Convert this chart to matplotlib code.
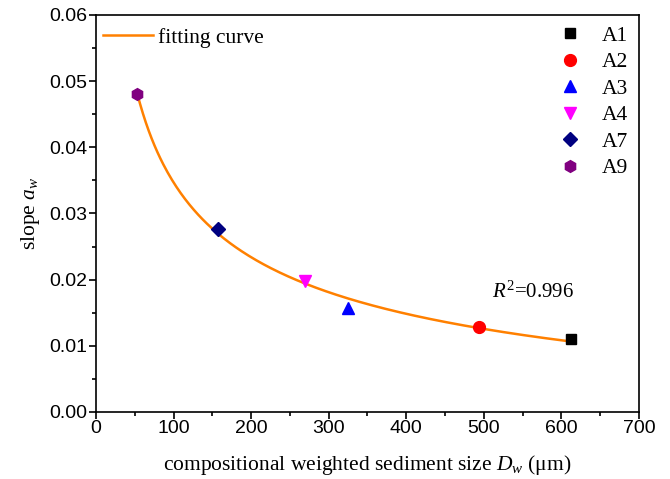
import numpy as np
import matplotlib as mpl
mpl.use('Agg')
import matplotlib.pyplot as plt

# data
labels = ['A1', 'A2', 'A3', 'A4', 'A7', 'A9']
dw = [613, 494, 325, 269, 157, 53]
aw = [0.0111, 0.0128, 0.0157, 0.0198, 0.0276, 0.0481]
markers = ['s', 'o', '^', 'v', 'D', 'h']
colors = ['black', 'red', 'blue', 'magenta', '#000080', '#800080']
msizes = [7.5, 8.5, 8.5, 8.5, 7.5, 8.5]

# power fit with offset a = y0 + A*D^b, b by grid search
x = np.array(dw, float)
y = np.array(aw, float)
best = None
for b in np.linspace(-3, -0.05, 3000):
    M = np.column_stack([np.ones_like(x), x ** b])
    coef = np.linalg.lstsq(M, y, rcond=None)[0]
    r = np.sum((M @ coef - y) ** 2)
    if best is None or r < best[0]:
        best = (r, b, coef)
_, bb, (y0, A) = best
xf = np.linspace(x.min(), x.max(), 300)
yf = y0 + A * xf ** bb

serif = ['Liberation Serif', 'DejaVu Serif']
mpl.rcParams['font.family'] = ['Liberation Sans', 'DejaVu Sans']
mpl.rcParams['mathtext.fontset'] = 'custom'
mpl.rcParams['mathtext.it'] = 'Liberation Serif:italic'
mpl.rcParams['mathtext.rm'] = 'Liberation Serif'

fig = plt.figure(figsize=(6.7, 4.79), dpi=100, facecolor='w')
ax = fig.add_axes([0.1433, 0.1399, 0.8104, 0.8288])

line, = ax.plot(xf, yf, color='#ff8000', lw=1.8, zorder=2)
pts = []
for xi, yi, lab, m, c, s in zip(dw, aw, labels, markers, colors, msizes):
    p, = ax.plot(xi, yi, ls='none', marker=m, color=c, markersize=s, zorder=3, label=lab)
    pts.append(p)

ax.set_xlim(0, 700)
ax.set_ylim(0, 0.06)
ax.set_xticks(np.arange(0, 701, 100))
ax.set_xticks(np.arange(50, 700, 100), minor=True)
ax.set_yticks(np.arange(0, 0.0601, 0.01))
ax.set_yticks(np.arange(0.005, 0.06, 0.01), minor=True)
ax.yaxis.set_major_formatter(mpl.ticker.FormatStrFormatter('%.2f'))
ax.tick_params(which='major', direction='out', length=5, width=1.2, labelsize=14)
ax.tick_params(axis='x', which='major', pad=0.5)
ax.tick_params(axis='y', which='major', pad=1.5)
ax.tick_params(which='minor', direction='out', length=3, width=1.2)
for sp in ax.spines.values():
    sp.set_linewidth(1.2)

ax.set_xlabel(r'compositional weighted sediment size $D_w$ ($\mathrm{\mu m}$)',
              fontsize=15.5, family=serif, labelpad=12)
ax.set_ylabel(r'slope $a_w$', fontsize=15.5, family=serif, labelpad=5)

leg1 = ax.legend([line], ['fitting curve'], loc='upper left', frameon=False,
                 prop={'family': serif, 'size': 15.5}, handlelength=2.3,
                 handletextpad=0.25, borderaxespad=0, borderpad=0,
                 bbox_to_anchor=(0.0129, 0.9678))
ax.add_artist(leg1)
ax.legend(handles=pts, loc='upper right', frameon=False,
          prop={'family': serif, 'size': 15.5}, handletextpad=0.48,
          labelspacing=0.3, borderaxespad=0.3, borderpad=0.2)

ax.text(510, 0.0181, r'$R^2$=0.996', fontsize=15, family=serif,
        ha='left', va='center')

fig.savefig('out.png', dpi=100)
